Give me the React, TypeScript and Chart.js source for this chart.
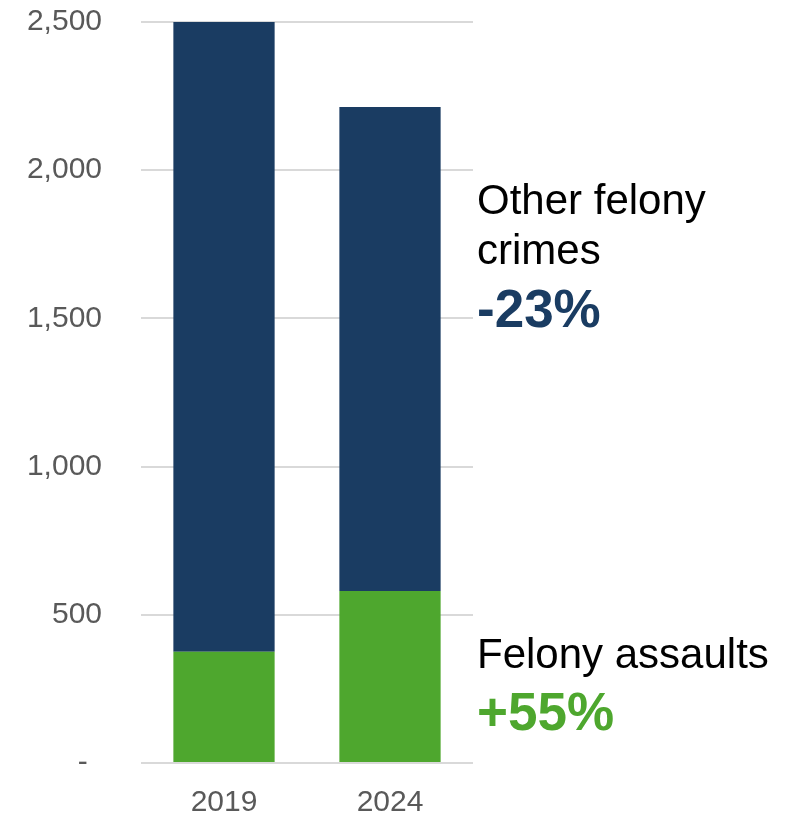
import React, { useEffect, useRef } from "react";
import { Chart, registerables } from "chart.js";

Chart.register(...registerables);

const categories = ["2019", "2024"];
const felonyAssaults = [375, 580];
const otherFelonyCrimes = [2125, 1633];
const yTicks = [0, 500, 1000, 1500, 2000, 2500];

const NAVY = "#1a3c62";
const GREEN = "#4ea72e";
const FONT = "'Liberation Sans', Arial, sans-serif";

export default function App() {
  const canvasRef = useRef<HTMLCanvasElement | null>(null);

  useEffect(() => {
    const canvas = canvasRef.current;
    if (!canvas) return;
    const chart = new Chart(canvas, {
      type: "bar",
      data: {
        labels: categories,
        datasets: [
          {
            label: "Felony assaults",
            data: felonyAssaults,
            backgroundColor: GREEN,
            borderWidth: 0,
            barPercentage: 0.61,
            categoryPercentage: 1,
          },
          {
            label: "Other felony crimes",
            data: otherFelonyCrimes,
            backgroundColor: NAVY,
            borderWidth: 0,
            barPercentage: 0.61,
            categoryPercentage: 1,
          },
        ],
      },
      options: {
        animation: false,
        responsive: false,
        devicePixelRatio: 1,
        layout: { padding: { top: 22, right: 330, bottom: 0, left: 0 } },
        plugins: {
          legend: { display: false },
          tooltip: { enabled: false },
        },
        scales: {
          x: {
            stacked: true,
            grid: { display: false, drawTicks: false },
            border: { display: false },
            ticks: {
              color: "#595959",
              font: { family: FONT, size: 30 },
              padding: 22,
            },
            afterFit: (scale: any) => {
              scale.height = 53;
              scale.paddingLeft = 0;
              scale.paddingRight = 0;
            },
          },
          y: {
            stacked: true,
            min: 0,
            max: 2500,
            afterBuildTicks: (scale: any) => {
              scale.ticks = yTicks.map((v) => ({ value: v }));
            },
            grid: {
              color: "#d9d9d9",
              lineWidth: 2,
              drawTicks: false,
            },
            border: { display: false },
            ticks: {
              color: "#595959",
              font: { family: FONT, size: 30 },
              padding: 39,
              callback: (v: any) =>
                Number(v) === 0 ? "- \u2009" : Number(v).toLocaleString("en-US"),
            },
            afterFit: (scale: any) => {
              scale.width = 141;
              scale.paddingTop = 0;
              scale.paddingBottom = 0;
            },
          },
        },
      },
    });
    return () => chart.destroy();
  }, []);

  const lineStyle = (top: number, size: number, color: string, bold: boolean): React.CSSProperties => ({
    position: "absolute",
    left: 477,
    top,
    fontFamily: FONT,
    fontSize: size,
    lineHeight: `${size}px`,
    fontWeight: bold ? 700 : 400,
    color,
    whiteSpace: "nowrap",
  });

  return (
    <div style={{ position: "absolute", left: 0, top: 0, width: 803, height: 816, background: "#fff" }}>
      <canvas ref={canvasRef} width={803} height={816} style={{ position: "absolute", left: 0, top: 0 }} />
      <div style={lineStyle(179, 42, "#000", false)}>Other felony</div>
      <div style={lineStyle(229, 42, "#000", false)}>crimes</div>
      <div style={lineStyle(282, 53, NAVY, true)}>-23%</div>
      <div style={lineStyle(633, 42, "#000", false)}>Felony assaults</div>
      <div style={lineStyle(685, 53, GREEN, true)}>+55%</div>
    </div>
  );
}
